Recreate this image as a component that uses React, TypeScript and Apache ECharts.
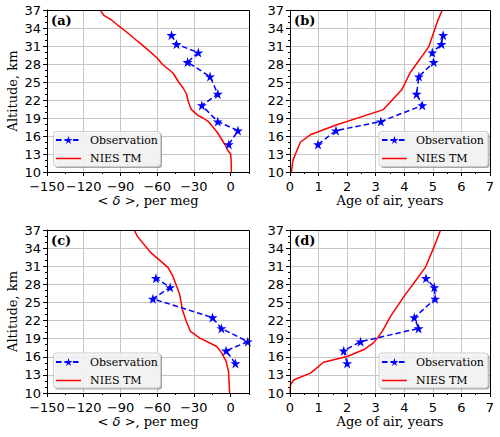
import React, { useEffect, useRef } from "react";
import * as echarts from "echarts";

// ---------- data ----------
const Y_TICKS = [10, 13, 16, 19, 22, 25, 28, 31, 34, 37];
const DELTA_TICKS = [-150, -120, -90, -60, -30, 0];
const AGE_TICKS = [0, 1, 2, 3, 4, 5, 6, 7];

// panel (a)/(b) observations
const ALT_OBS_AB = [14.6, 16.9, 18.4, 21.1, 23.0, 25.9, 28.3, 29.9, 31.3, 32.8];
const DELTA_OBS_A = [-1.5, 6.0, -10.5, -23.5, -10.5, -16.8, -35.2, -26.4, -44.2, -48.3];
const AGE_OBS_B = [0.98, 1.61, 3.18, 4.63, 4.43, 4.51, 5.03, 4.98, 5.3, 5.36];

// panel (c)/(d) observations
const ALT_OBS_CD = [14.9, 17.0, 18.5, 20.7, 22.5, 25.6, 27.5, 29.0];
const DELTA_OBS_C = [3.9, -3.7, 14.0, -7.5, -14.8, -63.5, -49.4, -61.0];
const AGE_OBS_D = [2.0, 1.88, 2.47, 4.5, 4.35, 5.08, 5.05, 4.76];

// NIES TM model profiles
const ALT_TM_A = [10, 12, 13, 13.4, 14.5, 15.5, 16.5, 17.5, 18.4, 19.0, 19.4, 20.4, 21.0, 21.8, 23, 24, 25, 26.5, 28, 29, 30.4, 31.8, 33, 34.3, 35.3, 36.1, 37];
const DELTA_TM_A = [0.6, 0.4, 0, -1.7, -4.5, -7.5, -10.5, -14.5, -18.2, -22.5, -26.4, -32.0, -33.3, -34.7, -36.0, -38.8, -42.5, -47.1, -56, -60, -67.8, -76, -83, -91.2, -97, -103.6, -106.5];

const ALT_TM_B = [10, 11.9, 13.7, 15.0, 16.2, 17.8, 20.4, 23.7, 26.5, 30.9, 35.1, 37];
const AGE_TM_B = [0.05, 0.1, 0.25, 0.37, 0.71, 1.59, 3.27, 3.91, 4.2, 4.86, 5.16, 5.33];

const ALT_TM_C = [10, 13.5, 15.2, 16.6, 17.7, 19.1, 20.2, 21.8, 23.8, 26.3, 29.3, 30.8, 33.2, 35.9, 37];
const DELTA_TM_C = [-0.8, -1.7, -3.6, -7.2, -11.3, -25.1, -32.8, -36.1, -39.4, -41.6, -47.1, -51.2, -65, -76, -78.8];

const ALT_TM_D = [10, 11.4, 12.2, 13.3, 15.1, 16.05, 17.2, 18.3, 19.1, 20.2, 22.7, 26.0, 29.0, 30.9, 34.2, 37];
const AGE_TM_D = [0, 0.02, 0.14, 0.72, 1.17, 2.0, 2.59, 2.92, 3.06, 3.23, 3.52, 3.99, 4.46, 4.75, 5.04, 5.27];

const PANEL_LABELS = ["(a)", "(b)", "(c)", "(d)"];
const SERIES_OBS = "Observation";
const SERIES_TM = "NIES TM";

// ---------- styling ----------
const STAR =
  "path://M100,0L122.45,69.1L195.1,69.1L136.33,111.8L158.8,180.9L100,138.2L41.2,180.9L63.67,111.8L4.9,69.1L77.55,69.1Z";
const BLUE = "#0000ff";
const RED = "#ff0000";
const GRID_COLOR = "#c6c6c6";
const TICK_FONT = { fontFamily: "DejaVu Sans", fontSize: 13, lineHeight: 12, color: "#000" };
const SERIF = "DejaVu Serif";

const GRIDS = [
  { left: 47, top: 10, width: 202, height: 162 },
  { left: 290, top: 10, width: 200, height: 162 },
  { left: 47, top: 230, width: 202, height: 163 },
  { left: 290, top: 230, width: 200, height: 163 },
];

const fmtMinus = (v: number) => (v < 0 ? "\u2212" + Math.abs(v) : String(v));

function majorX(p: number, kind: "delta" | "age") {
  const isDelta = kind === "delta";
  const ticks = isDelta ? DELTA_TICKS : AGE_TICKS;
  return {
    type: "value",
    gridIndex: p,
    position: "bottom",
    min: isDelta ? -150 : 0,
    max: isDelta ? 15 : 7,
    interval: isDelta ? 15 : 0.5,
    axisLine: { show: true, onZero: false, lineStyle: { color: "#000", width: 1 } },
    axisTick: { show: true, length: 4, customValues: ticks, lineStyle: { color: "#000", width: 1 } },
    axisLabel: { show: true, customValues: ticks, margin: 8, formatter: fmtMinus, ...TICK_FONT },
    splitLine: { show: true, showMinLine: false, showMaxLine: false, lineStyle: { color: GRID_COLOR, width: 1 } },
    name: isDelta ? "{m|< }{i|\u03b4}{m| >}{t|, per meg}" : "Age of air, years",
    nameLocation: "middle",
    nameGap: 22,
    nameTextStyle: {
      fontFamily: SERIF,
      fontSize: 13,
      color: "#000",
      rich: {
        m: { fontFamily: "DejaVu Sans", fontSize: 13, color: "#000" },
        i: { fontFamily: "DejaVu Sans", fontStyle: "italic", fontSize: 13, color: "#000" },
        t: { fontFamily: SERIF, fontSize: 13, color: "#000" },
      },
    },
  };
}

function minorX(p: number, kind: "delta" | "age") {
  const isDelta = kind === "delta";
  return {
    type: "value",
    gridIndex: p,
    position: "bottom",
    min: isDelta ? -150 : 0,
    max: isDelta ? 15 : 7,
    interval: isDelta ? 15 : 0.5,
    axisLine: { show: false, onZero: false },
    axisTick: { show: true, length: 2, lineStyle: { color: "#000", width: 1 } },
    axisLabel: { show: false },
    splitLine: { show: false },
  };
}

function majorY(p: number) {
  const left = p % 2 === 0;
  return {
    type: "value",
    gridIndex: p,
    position: "left",
    min: 10,
    max: 37,
    interval: 1,
    axisLine: { show: true, onZero: false, lineStyle: { color: "#000", width: 1 } },
    axisTick: { show: true, length: 4, customValues: Y_TICKS, lineStyle: { color: "#000", width: 1 } },
    axisLabel: { show: true, customValues: Y_TICKS, margin: 6, ...TICK_FONT },
    splitLine: { show: true, showMinLine: false, showMaxLine: false, lineStyle: { color: GRID_COLOR, width: 1 } },
    name: left ? "Altitude, km" : "",
    nameLocation: "middle",
    nameGap: 28,
    nameTextStyle: { fontFamily: SERIF, fontSize: 13, color: "#000" },
  };
}

function minorY(p: number) {
  return {
    type: "value",
    gridIndex: p,
    position: "left",
    min: 10,
    max: 37,
    interval: 1,
    axisLine: { show: false, onZero: false },
    axisTick: { show: true, length: 2, lineStyle: { color: "#000", width: 1 } },
    axisLabel: { show: false },
    splitLine: { show: false },
  };
}

const pairs = (xs: number[], ys: number[]) => xs.map((x, i) => [x, ys[i]]);

function obsSeries(p: number, xs: number[], alts: number[]) {
  return {
    type: "line",
    name: SERIES_OBS,
    xAxisIndex: 2 * p,
    yAxisIndex: 2 * p,
    data: pairs(xs, alts),
    symbol: STAR,
    symbolSize: 10,
    showSymbol: true,
    itemStyle: { color: BLUE },
    lineStyle: { color: BLUE, width: 1.5, type: [5.5, 3] },
    z: 4,
    silent: true,
  };
}

function tmSeries(p: number, xs: number[], alts: number[]) {
  return {
    type: "line",
    name: SERIES_TM,
    xAxisIndex: 2 * p,
    yAxisIndex: 2 * p,
    data: pairs(xs, alts),
    symbol: "none",
    itemStyle: { color: RED },
    lineStyle: { color: RED, width: 1.5 },
    z: 3,
    silent: true,
  };
}

const LEGEND_BOX = [
  { x: 53, y: 131, w: 107, h: 35, left: 55, top: 134.5 },
  { x: 378.5, y: 131, w: 109, h: 35, left: 381, top: 134.5 },
  { x: 53, y: 352.5, w: 107, h: 35, left: 55, top: 356.5 },
  { x: 378.5, y: 352.5, w: 109, h: 35, left: 381, top: 356.5 },
];

function buildOption() {
  const kinds: ("delta" | "age")[] = ["delta", "age", "delta", "age"];
  const xAxis: any[] = [];
  const yAxis: any[] = [];
  kinds.forEach((k, p) => {
    xAxis.push(majorX(p, k), minorX(p, k));
    yAxis.push(majorY(p), minorY(p));
  });

  const graphic: any[] = [];
  GRIDS.forEach((g, p) => {
    graphic.push({
      type: "rect",
      z: 40,
      silent: true,
      shape: { x: g.left + 0.5, y: g.top + 0.5, width: g.width, height: g.height },
      style: { fill: "none", stroke: "#000", lineWidth: 1 },
    });
    graphic.push({
      type: "text",
      z: 45,
      silent: true,
      x: g.left + 4,
      y: g.top + 4,
      style: {
        text: PANEL_LABELS[p],
        fontFamily: SERIF,
        fontWeight: "bold",
        fontSize: 13,
        fill: "#000",
        verticalAlign: "top",
      },
    });
  });
  LEGEND_BOX.forEach((b) => {
    graphic.push({
      type: "rect",
      z: 50,
      silent: true,
      shape: { x: b.x + 2, y: b.y + 2, width: b.w, height: b.h, r: 3 },
      style: { fill: "rgba(77,77,77,0.5)" },
    });
    graphic.push({
      type: "rect",
      z: 51,
      silent: true,
      shape: { x: b.x + 0.5, y: b.y + 0.5, width: b.w, height: b.h, r: 3 },
      style: { fill: "rgba(255,255,255,0.85)", stroke: "#cccccc", lineWidth: 1 },
    });
  });

  const legend = LEGEND_BOX.map((b) => ({
    show: true,
    orient: "vertical",
    left: b.left,
    top: b.top,
    padding: 0,
    itemWidth: 25,
    itemHeight: 10,
    itemGap: 7.5,
    z: 60,
    selectedMode: false,
    textStyle: { fontFamily: SERIF, fontSize: 11, color: "#000", padding: [0, 0, 0, 4] },
    data: [
      { name: SERIES_OBS },
      { name: SERIES_TM, icon: "path://M0,0H25V1.5H0Z" },
    ],
  }));

  const series = [
    obsSeries(0, DELTA_OBS_A, ALT_OBS_AB),
    tmSeries(0, DELTA_TM_A, ALT_TM_A),
    obsSeries(1, AGE_OBS_B, ALT_OBS_AB),
    tmSeries(1, AGE_TM_B, ALT_TM_B),
    obsSeries(2, DELTA_OBS_C, ALT_OBS_CD),
    tmSeries(2, DELTA_TM_C, ALT_TM_C),
    obsSeries(3, AGE_OBS_D, ALT_OBS_CD),
    tmSeries(3, AGE_TM_D, ALT_TM_D),
  ];

  return {
    animation: false,
    backgroundColor: "#ffffff",
    grid: GRIDS.map((g) => ({ ...g, show: false, containLabel: false })),
    xAxis,
    yAxis,
    legend,
    graphic,
    series,
  };
}

export default function App() {
  const ref = useRef<HTMLDivElement>(null);
  useEffect(() => {
    document.body.style.margin = "0";
    if (!ref.current) return;
    const chart = echarts.init(ref.current, null, { renderer: "svg" });
    chart.setOption(buildOption() as any);
    return () => chart.dispose();
  }, []);
  return (
    <div
      ref={ref}
      style={{ position: "absolute", left: 0, top: 0, width: 500, height: 437, background: "#fff" }}
    />
  );
}
